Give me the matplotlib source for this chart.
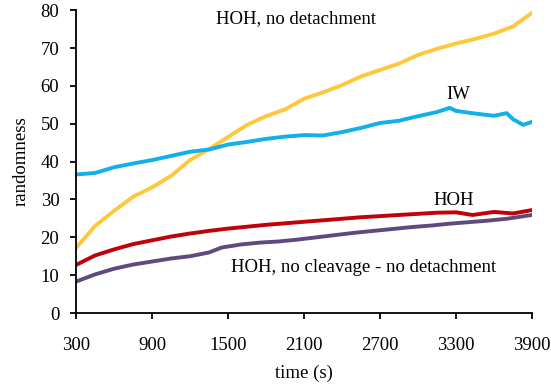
import matplotlib
matplotlib.use("Agg")
import matplotlib.pyplot as plt

plt.rcParams['font.family'] = ['Liberation Serif', 'DejaVu Serif']

t_yellow = [300, 450, 600, 750, 900, 1050, 1200, 1350, 1500, 1650, 1800, 1950, 2100, 2250,
            2400, 2550, 2700, 2850, 3000, 3150, 3300, 3450, 3600, 3750, 3900]
v_yellow = [17.2, 23.0, 27.0, 30.7, 33.2, 36.2, 40.4, 43.3, 46.5, 49.7, 52.0, 53.8, 56.6, 58.3,
            60.2, 62.5, 64.2, 65.9, 68.2, 69.8, 71.2, 72.4, 73.8, 75.7, 79.3]

t_blue = [300, 450, 600, 750, 900, 1050, 1200, 1350, 1500, 1650, 1800, 1950, 2100, 2250,
          2400, 2550, 2700, 2850, 3000, 3150, 3250, 3300, 3450, 3600, 3700, 3750, 3830, 3900]
v_blue = [36.6, 37.0, 38.5, 39.5, 40.4, 41.5, 42.6, 43.2, 44.5, 45.2, 46.0, 46.6, 47.0, 46.9,
          47.8, 48.9, 50.2, 50.8, 52.0, 53.1, 54.2, 53.4, 52.7, 52.1, 52.8, 51.2, 49.7, 50.5]

t_red = [300, 450, 600, 750, 900, 1050, 1200, 1350, 1500, 1650, 1800, 1950, 2100, 2250,
         2400, 2550, 2700, 2850, 3000, 3150, 3300, 3430, 3600, 3750, 3900]
v_red = [12.7, 15.2, 16.8, 18.2, 19.2, 20.2, 21.0, 21.7, 22.3, 22.8, 23.3, 23.7, 24.1, 24.5,
         24.9, 25.3, 25.6, 25.9, 26.2, 26.5, 26.6, 25.9, 26.7, 26.3, 27.2]

t_purple = [300, 450, 600, 750, 900, 1050, 1200, 1350, 1450, 1600, 1750, 1900, 2050, 2200,
            2350, 2500, 2650, 2800, 2950, 3100, 3250, 3400, 3550, 3700, 3900]
v_purple = [8.3, 10.2, 11.7, 12.8, 13.6, 14.4, 15.0, 16.0, 17.3, 18.1, 18.6, 18.9, 19.4, 20.0,
            20.6, 21.2, 21.7, 22.2, 22.7, 23.1, 23.6, 24.0, 24.4, 24.9, 25.9]

x_ticks = [300, 900, 1500, 2100, 2700, 3300, 3900]
y_ticks = [0, 10, 20, 30, 40, 50, 60, 70, 80]

fig = plt.figure(figsize=(5.51, 3.92), dpi=100)
ax = fig.add_axes([0.138, 0.2015, 0.8275, 0.7725])

lw = 2.8
ax.plot(t_yellow, v_yellow, color='#FFC83A', lw=lw)
ax.plot(t_blue, v_blue, color='#12AFEB', lw=lw)
ax.plot(t_red, v_red, color='#C0000B', lw=lw)
ax.plot(t_purple, v_purple, color='#5F4A7F', lw=lw)

ax.set_xlim(300, 3900)
ax.set_ylim(0, 80)
ax.set_xticks(x_ticks)
ax.set_yticks(y_ticks)
for s in ['top', 'right']:
    ax.spines[s].set_visible(False)
for s in ['left', 'bottom']:
    ax.spines[s].set_linewidth(1.3)
ax.tick_params(axis='both', direction='out', length=4, width=1.3, labelsize=13.5)
ax.tick_params(axis='y', pad=8)
ax.tick_params(axis='x', pad=13)

ax.set_xlabel('time (s)', fontsize=13.5, labelpad=8)
ax.set_ylabel('randomness', fontsize=13.5, labelpad=8)

fs = 13.5
ax.text(2040, 77.9, 'HOH, no detachment', fontsize=fs, ha='center', va='center')
ax.text(3316, 57.8, 'IW', fontsize=fs, ha='center', va='center')
ax.text(3280, 29.8, 'HOH', fontsize=fs, ha='center', va='center')
ax.text(2574, 12.1, 'HOH, no cleavage - no detachment', fontsize=fs, ha='center', va='center')

fig.savefig('out.png', dpi=100)
